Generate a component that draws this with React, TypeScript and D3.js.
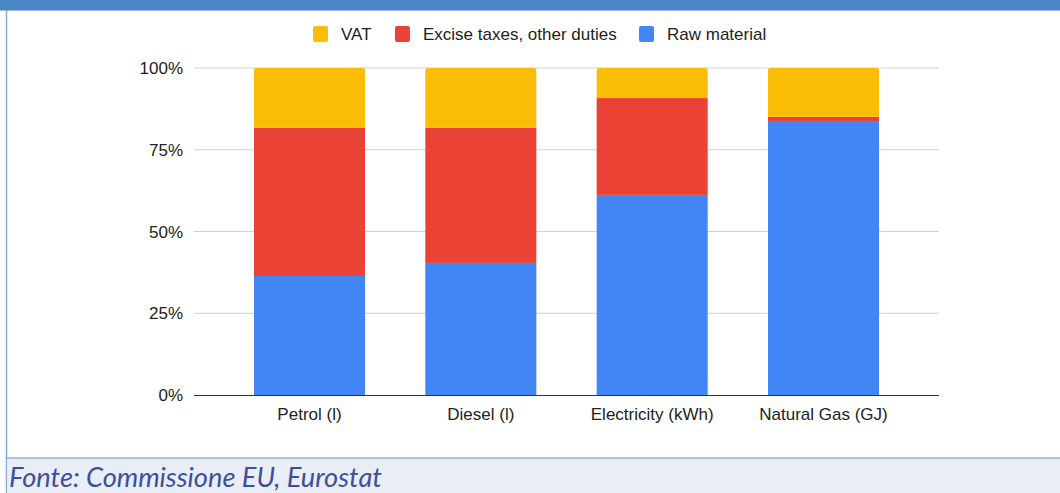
import React from "react";
import * as d3 from "d3";

const categories = ["Petrol (l)", "Diesel (l)", "Electricity (kWh)", "Natural Gas (GJ)"];
const rawMaterial = [36.4, 40.4, 61.2, 83.8];
const exciseTaxes = [45.3, 41.3, 29.6, 1.3];
const vat = [18.3, 18.3, 9.2, 14.9];
const yTicks = [0, 25, 50, 75, 100];
const seriesNames = ["VAT", "Excise taxes, other duties", "Raw material"];
const seriesColors = ["#fbbc04", "#ea4335", "#4285f4"];

const W = 1060;
const H = 493;

export default function App() {
  const x = d3.scaleBand<string>().domain(categories).range([194, 939]).paddingInner(0.352).paddingOuter(0.35);
  const y = d3.scaleLinear().domain([0, 100]).range([395, 68]);

  const rows = categories.map((c, i) => ({ cat: c, raw: rawMaterial[i], excise: exciseTaxes[i], vat: vat[i] }));
  const stack = d3.stack<any>().keys(["raw", "excise", "vat"]);
  const layers = stack(rows);
  const colorFor: Record<string, string> = { raw: seriesColors[2], excise: seriesColors[1], vat: seriesColors[0] };

  const font = "'Liberation Sans', Arial, sans-serif";
  const fs = 17;

  const legendItems = [
    { name: seriesNames[0], color: seriesColors[0], x: 313 },
    { name: seriesNames[1], color: seriesColors[1], x: 395 },
    { name: seriesNames[2], color: seriesColors[2], x: 639 },
  ];

  return (
    <svg width={W} height={H} style={{ position: "absolute", left: 0, top: 0, background: "#fff" }}>
      <rect x={0} y={0} width={W} height={10} fill="#4a86c5" />
      <line x1={0} x2={W} y1={10.5} y2={10.5} stroke="#9fbde0" strokeWidth={1} />
      <line x1={6.5} x2={6.5} y1={10} y2={H} stroke="#86aadb" strokeWidth={1.5} />
      {yTicks.map((t) => (
        <g key={t}>
          {t !== 0 && <line x1={194} x2={939} y1={y(t)} y2={y(t)} stroke="#d0d0d0" strokeWidth={1} />}
          <text x={183} y={y(t) + 6} textAnchor="end" fontFamily={font} fontSize={fs} fill="#222">
            {t}%
          </text>
        </g>
      ))}
      {layers.map((layer) =>
        layer.map((d: any, i: number) => {
          const x0 = x(categories[i])!;
          const bw = x.bandwidth();
          const top = y(d[1]);
          const bottom = y(d[0]);
          const isTop = layer.key === "vat";
          if (isTop) {
            const r = 2.5;
            const path = `M${x0},${bottom} L${x0},${top + r} Q${x0},${top} ${x0 + r},${top} L${x0 + bw - r},${top} Q${x0 + bw},${top} ${x0 + bw},${top + r} L${x0 + bw},${bottom} Z`;
            return <path key={layer.key + i} d={path} fill={colorFor[layer.key]} />;
          }
          return <rect key={layer.key + i} x={x0} y={top} width={bw} height={bottom - top} fill={colorFor[layer.key]} />;
        })
      )}
      <line x1={194} x2={939} y1={395.5} y2={395.5} stroke="#333" strokeWidth={1} />
      {categories.map((c) => (
        <text key={c} x={x(c)! + x.bandwidth() / 2} y={420} textAnchor="middle" fontFamily={font} fontSize={fs} fill="#222">
          {c}
        </text>
      ))}
      {legendItems.map((l) => (
        <g key={l.name}>
          <rect x={l.x} y={26} width={15} height={16} rx={2} fill={l.color} />
          <text x={l.x + 28} y={40} fontFamily={font} fontSize={fs} fill="#222">
            {l.name}
          </text>
        </g>
      ))}
      <rect x={7} y={458} width={W - 7} height={H - 458} fill="#e9edf6" />
      <line x1={7} x2={W} y1={458} y2={458} stroke="#8fb0dc" strokeWidth={1.5} />
      <text x={9} y={487} fontFamily="Lato, 'Open Sans', sans-serif" fontStyle="italic" fontSize={27} fill="#3d4f9c" textLength={373} lengthAdjust="spacingAndGlyphs">
        Fonte: Commissione EU, Eurostat
      </text>
    </svg>
  );
}
